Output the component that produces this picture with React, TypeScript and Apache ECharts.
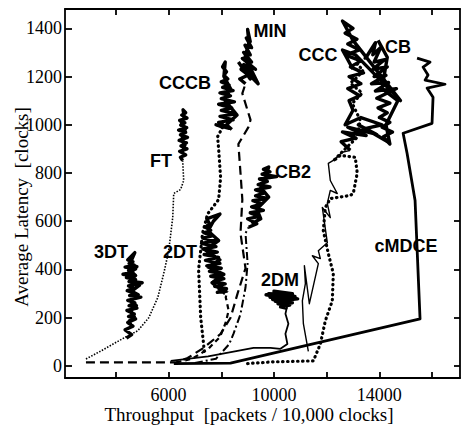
import React, { useEffect, useRef } from "react";
import * as echarts from "echarts";

// ---- axis ticks / labels ----
const xTickValues = [4000, 6000, 8000, 10000, 12000, 14000, 16000];
const xLabelValues = [6000, 10000, 14000];
const yTickValues = [0, 200, 400, 600, 800, 1000, 1200, 1400];
const xTitle = "Throughput  [packets / 10,000 clocks]";
const yTitle = "Average Latency  [clocks]";

// ---- series data: [throughput, latency] ----
const ftPath = [[2865, 29], [3432, 62], [4303, 116], [4833, 146], [5250, 200], [5590, 283], [5817, 383], [6006, 478], [6158, 615], [6196, 715], [6461, 732], [6574, 769], [6536, 852]];
const ftNoise = [[6536, 852], [6450, 865], [6650, 875], [6420, 890], [6700, 900], [6470, 912], [6680, 925], [6400, 935], [6720, 948], [6450, 958], [6650, 968], [6380, 978], [6690, 988], [6460, 998], [6620, 1008], [6420, 1018], [6700, 1028], [6500, 1040], [6650, 1050], [6550, 1062], [6600, 1030], [6480, 1010], [6650, 985], [6520, 950], [6620, 915], [6500, 880]];

const dt3Noise = [[4400, 115], [4600, 130], [4350, 150], [4650, 165], [4450, 180], [4750, 195], [4480, 205], [4700, 215], [4420, 230], [4800, 240], [4500, 250], [4720, 262], [4450, 272], [4950, 285], [4520, 292], [4750, 300], [4430, 312], [4700, 322], [4480, 332], [5000, 345], [4550, 350], [4750, 358], [4400, 366], [4680, 372], [4270, 380], [4650, 388], [4480, 395], [4750, 402], [4350, 410], [4700, 418], [4500, 425], [4650, 432], [4450, 440], [4720, 470], [4600, 440], [4550, 420], [4800, 412], [4600, 390], [4750, 375], [4500, 350], [4900, 335], [4600, 310], [4850, 295], [4550, 270], [4780, 250], [4550, 225], [4700, 205], [4500, 185], [4620, 160]];

const dt2Path = [[6300, 15], [6900, 30], [7500, 70], [7950, 120], [8170, 180], [8280, 230], [8170, 285], [8240, 310]];
const dt2Noise = [[8240, 310], [7850, 305], [8200, 320], [7750, 330], [8150, 340], [7700, 350], [8100, 362], [7600, 372], [8050, 382], [7550, 392], [8000, 405], [7450, 415], [7950, 425], [7400, 438], [7900, 450], [7350, 462], [7850, 472], [7300, 485], [7800, 495], [7250, 508], [7750, 518], [7300, 530], [7700, 540], [7350, 552], [7600, 562], [7400, 575], [7550, 590], [7450, 610], [7950, 630], [7700, 600], [7500, 560], [7900, 520], [7400, 480], [7950, 440], [7500, 410], [8100, 380], [7650, 345], [8150, 300]];

const cccbPath = [[7350, 60], [7330, 90], [7220, 200], [7140, 400], [7290, 550], [7480, 630], [7900, 690], [7975, 780], [7900, 900], [7860, 950], [8050, 990]];
const cccbNoise = [[8050, 990], [7800, 1000], [8300, 985], [7900, 1010], [8450, 1020], [7950, 1035], [8550, 1045], [8000, 1060], [8400, 1070], [7900, 1085], [8500, 1095], [8000, 1108], [8350, 1120], [7950, 1132], [8450, 1142], [8050, 1155], [8300, 1165], [8000, 1178], [8250, 1190], [8100, 1205], [8200, 1220], [8050, 1240], [8150, 1260], [8100, 1200], [8350, 1150], [8150, 1100], [8600, 1040], [8200, 1000], [8400, 980]];

const minPath = [[2865, 15], [6300, 15], [6725, 33], [7331, 75], [7975, 133], [8353, 200], [8618, 300], [8920, 405], [8730, 550], [8800, 690], [8730, 800], [8650, 920], [9030, 990], [9110, 1020], [8800, 1130], [8920, 1170]];
const minNoise = [[8920, 1170], [8700, 1190], [9200, 1215], [8750, 1230], [9350, 1180], [8850, 1250], [9300, 1230], [8800, 1275], [9150, 1260], [8850, 1300], [9100, 1290], [8900, 1330], [9150, 1320], [8950, 1360], [9100, 1345], [9000, 1395], [9050, 1340], [8900, 1280], [9400, 1170], [8950, 1220], [9100, 1190], [8650, 1260]];

const cb2Path = [[7000, 12], [7800, 30], [8300, 90], [8470, 135], [8730, 215], [8920, 325], [9000, 425], [8920, 550], [9040, 575]];
const cb2Noise = [[9040, 575], [9350, 590], [9000, 610], [9450, 620], [9100, 635], [9600, 645], [9150, 660], [9550, 672], [9200, 685], [9750, 695], [9300, 705], [9650, 718], [9300, 730], [9850, 742], [9400, 752], [9750, 765], [9450, 775], [10100, 785], [9550, 795], [9850, 805], [9600, 815], [9800, 825], [9700, 790], [9500, 740], [9800, 700], [9350, 650], [9500, 610], [9150, 590]];

const dm2Path = [[6082, 21], [7500, 40], [8618, 62], [9224, 75], [9867, 75], [10245, 71], [10510, 91], [10435, 133], [10548, 175], [10435, 216], [10548, 270]];
const dm2Noise = [[10548, 270], [9800, 300], [10600, 295], [9850, 285], [10800, 288], [9950, 275], [10900, 278], [10050, 268], [10700, 262], [10150, 258], [10600, 252], [10250, 245], [10450, 240], [10300, 305], [10700, 300], [10000, 310], [10400, 290], [9700, 295], [10500, 280], [10100, 300]];

const cccPath = [[11305, 60], [11116, 175], [11078, 270], [11192, 341], [11154, 416], [11343, 258], [11684, 424], [11457, 457], [11760, 445], [11684, 478], [12025, 511], [11835, 657], [12138, 615], [12025, 674], [12138, 728], [12403, 715], [12138, 769], [12063, 840], [12252, 852], [12593, 886], [12895, 894]];
const cccNoise = [[12895, 894], [12550, 930], [13100, 945], [12600, 970], [13500, 955], [12800, 990], [13900, 960], [13200, 1000], [14300, 930], [13500, 985], [14100, 1000], [13300, 1030], [12700, 1000], [13000, 1060], [12850, 1100], [13250, 1120], [12800, 1150], [13300, 1170], [12850, 1200], [13400, 1215], [12900, 1240], [13300, 1265], [12700, 1290], [13250, 1310], [12800, 1335], [13150, 1355], [12700, 1380], [13000, 1400], [12600, 1430], [13000, 1350], [14800, 1100], [13100, 1290], [12600, 1310], [13000, 1230]];

const cbPath = [[9000, 10], [9981, 17], [11495, 21], [11684, 71], [11760, 91], [11949, 187], [12214, 270], [12252, 383], [12063, 466], [11873, 561], [11949, 657], [12138, 694], [12895, 707], [13009, 715], [13160, 800], [13085, 865], [12517, 873], [12250, 850], [12700, 900], [13161, 948], [13274, 1019], [12971, 1089], [13350, 1131], [12895, 1173], [13161, 1197], [13388, 1227], [13150, 1250], [13500, 1280]];
const cbNoise = [[13500, 1280], [13850, 1340], [13750, 1290], [14050, 1320], [13800, 1260], [14200, 1270], [13750, 1230], [14300, 1240], [13800, 1200], [14250, 1205], [13700, 1170], [14350, 1175], [13850, 1140], [14650, 1150], [13900, 1110], [14400, 1090], [13950, 1070], [14300, 1050], [14000, 1030], [14400, 1010], [14100, 990], [14500, 970], [14150, 950], [14400, 920], [14250, 1000], [14700, 1100], [14100, 1150], [14300, 1280], [13950, 1350]];

const cmdcePath = [[6200, 10], [8350, 12], [15544, 195], [15355, 686], [15053, 881], [14901, 965], [15999, 1006], [16037, 1114], [15810, 1152], [16491, 1168], [15734, 1185], [15847, 1206], [15658, 1239], [15923, 1260], [15431, 1276]];

// ---- series labels (text, pixel centre) ----
const seriesLabels = [
  { text: "MIN", x: 270, y: 31 },
  { text: "CCCB", x: 185, y: 83 },
  { text: "FT", x: 161, y: 161 },
  { text: "CB2", x: 293, y: 172 },
  { text: "CCC", x: 318, y: 55 },
  { text: "CB", x: 398, y: 47 },
  { text: "cMDCE", x: 406, y: 246 },
  { text: "3DT", x: 111, y: 252 },
  { text: "2DT", x: 180, y: 252 },
  { text: "2DM", x: 280, y: 280 },
];

const SERIF = "'Liberation Serif', 'Times New Roman', serif";
const SANS = "'Liberation Sans', Arial, Helvetica, sans-serif";

function line(data: number[][], lineStyle: any) {
  return {
    type: "line",
    data,
    showSymbol: false,
    symbol: "none",
    silent: true,
    clip: true,
    lineStyle: { color: "#000", join: "round", ...lineStyle },
  };
}

export default function App() {
  const ref = useRef<HTMLDivElement>(null);
  useEffect(() => {
    if (!ref.current) return;
    const chart = echarts.init(ref.current, undefined, { renderer: "svg" });
    const fineDot = { width: 1.6, type: [1.5, 1.5] };
    const heavyDot = { width: 3.2, type: [0.5, 4.5], cap: "round" };
    const longDash = { width: 2.2, type: [9, 5] };
    const shortDash = { width: 2.2, type: [5, 4] };
    const dashDot = { width: 2, type: [8, 3, 2, 3] };
    const thin = { width: 1.4, type: "solid" };
    const noise = { width: 3.4, type: "solid" };

    const axisCommon = {
      type: "value",
      axisLine: { show: true, onZero: false, lineStyle: { color: "#000", width: 1.8 } },
      splitLine: { show: false },
    };
    const tickStyle = { color: "#000", width: 1.8 };
    const plain = (v: number) => String(v);

    chart.setOption({
      animation: false,
      backgroundColor: "#fff",
      grid: { left: 65, right: 5, top: 9, bottom: 48, containLabel: false },
      xAxis: [
        {
          ...axisCommon,
          position: "bottom",
          min: 2070,
          max: 17060,
          axisTick: { show: true, inside: true, length: 6, customValues: xTickValues, lineStyle: tickStyle },
          axisLabel: {
            show: true,
            customValues: xLabelValues,
            formatter: plain,
            color: "#000",
            fontFamily: SERIF,
            fontSize: 18,
            margin: 8,
          },
        },
        {
          ...axisCommon,
          position: "top",
          min: 2070,
          max: 17060,
          axisTick: { show: true, inside: true, length: 6, customValues: xTickValues, lineStyle: tickStyle },
          axisLabel: { show: false },
        },
      ],
      yAxis: [
        {
          ...axisCommon,
          position: "left",
          min: -50,
          max: 1480,
          axisTick: { show: true, inside: true, length: 7, customValues: yTickValues, lineStyle: tickStyle },
          axisLabel: {
            show: true,
            customValues: yTickValues,
            formatter: plain,
            color: "#000",
            fontFamily: SERIF,
            fontSize: 18,
            margin: 3,
          },
        },
        {
          ...axisCommon,
          position: "right",
          min: -50,
          max: 1480,
          axisTick: { show: true, inside: true, length: 6, customValues: yTickValues, lineStyle: tickStyle },
          axisLabel: { show: false },
        },
      ],
      series: [
        line(ftPath, fineDot),
        line(ftNoise, noise),
        line(dt3Noise, noise),
        line(dt2Path, shortDash),
        line(dt2Noise, noise),
        line(cccbPath, heavyDot),
        line(cccbNoise, noise),
        line(minPath, longDash),
        line(minNoise, noise),
        line(cb2Path, dashDot),
        line(cb2Noise, noise),
        line(dm2Path, { width: 1.8, type: "solid" }),
        line(dm2Noise, noise),
        line(cccPath, thin),
        line(cccNoise, noise),
        line(cbPath, heavyDot),
        line(cbNoise, noise),
        line(cmdcePath, { width: 2.8, type: "solid" }),
      ],
      graphic: [
        ...seriesLabels.map((l) => ({
          type: "text",
          x: l.x,
          y: l.y,
          silent: true,
          style: {
            text: l.text,
            fill: "#000",
            font: `bold 18px ${SANS}`,
            align: "center",
            verticalAlign: "middle",
          },
        })),
        {
          type: "text",
          x: 249,
          y: 414,
          silent: true,
          style: { text: xTitle, fill: "#000", font: `19px ${SERIF}`, align: "center", verticalAlign: "middle" },
        },
        {
          type: "text",
          x: 21,
          y: 207,
          rotation: Math.PI / 2,
          silent: true,
          style: { text: yTitle, fill: "#000", font: `19px ${SERIF}`, align: "center", verticalAlign: "middle" },
        },
      ],
    });
    return () => chart.dispose();
  }, []);
  return (
    <div
      ref={ref}
      style={{ position: "fixed", left: 0, top: 0, width: 465, height: 426, background: "#fff" }}
    />
  );
}
